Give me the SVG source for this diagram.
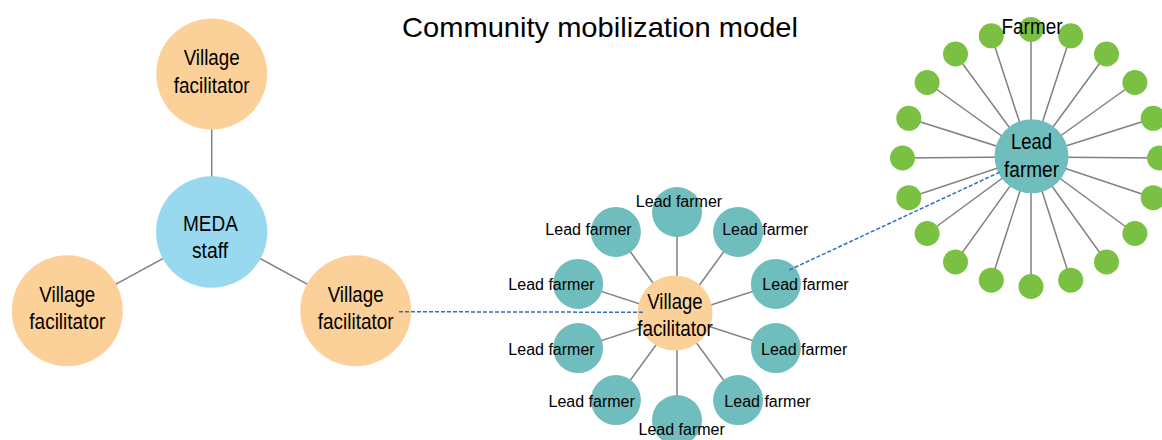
<svg xmlns="http://www.w3.org/2000/svg" width="1162" height="440" viewBox="0 0 1162 440">
<style>
text{font-family:"Liberation Sans",Arial,sans-serif;fill:#000;text-anchor:middle}
.big{font-size:22px}
.lf{font-size:16px}
.title{font-size:28.5px}
.peach{fill:#fcd199}
.teal{fill:#70bdbd}
.blue{fill:#99d9f0}
.green{fill:#7ac143}
.ln{stroke:#808080;stroke-width:1.5;fill:none}
.dash{stroke:#2e6fc4;stroke-width:1.5;stroke-dasharray:4 2;fill:none}
</style>
<rect width="1162" height="440" fill="#fff"/>
<text class="title" x="600" y="36.7" textLength="396" lengthAdjust="spacingAndGlyphs">Community mobilization model</text>

<g id="connectors">
<line class="ln" x1="211.7" y1="74" x2="211.7" y2="232"/>
<line class="ln" x1="211.7" y1="232" x2="67.3" y2="310.7"/>
<line class="ln" x1="211.7" y1="232" x2="355.7" y2="310.7"/>
<line class="ln" x1="677" y1="316" x2="677" y2="212"/>
<line class="ln" x1="677" y1="316" x2="738.1" y2="231.9"/>
<line class="ln" x1="677" y1="316" x2="775.9" y2="283.9"/>
<line class="ln" x1="677" y1="316" x2="775.9" y2="348.1"/>
<line class="ln" x1="677" y1="316" x2="738.1" y2="400.1"/>
<line class="ln" x1="677" y1="316" x2="677" y2="420"/>
<line class="ln" x1="677" y1="316" x2="615.9" y2="400.1"/>
<line class="ln" x1="677" y1="316" x2="578.1" y2="348.1"/>
<line class="ln" x1="677" y1="316" x2="578.1" y2="283.9"/>
<line class="ln" x1="677" y1="316" x2="615.9" y2="231.9"/>
<line class="ln" x1="1031" y1="157" x2="1031" y2="29.5"/>
<line class="ln" x1="1031" y1="157" x2="1070.7" y2="35.8"/>
<line class="ln" x1="1031" y1="157" x2="1106.5" y2="54"/>
<line class="ln" x1="1031" y1="157" x2="1134.9" y2="82.5"/>
<line class="ln" x1="1031" y1="157" x2="1153.2" y2="118.3"/>
<line class="ln" x1="1031" y1="157" x2="1159.5" y2="158"/>
<line class="ln" x1="1031" y1="157" x2="1153.2" y2="197.7"/>
<line class="ln" x1="1031" y1="157" x2="1134.9" y2="233.5"/>
<line class="ln" x1="1031" y1="157" x2="1106.5" y2="262"/>
<line class="ln" x1="1031" y1="157" x2="1070.7" y2="280.2"/>
<line class="ln" x1="1031" y1="157" x2="1031" y2="286.5"/>
<line class="ln" x1="1031" y1="157" x2="991.3" y2="280.2"/>
<line class="ln" x1="1031" y1="157" x2="955.5" y2="262"/>
<line class="ln" x1="1031" y1="157" x2="927.1" y2="233.5"/>
<line class="ln" x1="1031" y1="157" x2="908.8" y2="197.7"/>
<line class="ln" x1="1031" y1="157" x2="902.5" y2="158"/>
<line class="ln" x1="1031" y1="157" x2="908.8" y2="118.3"/>
<line class="ln" x1="1031" y1="157" x2="927.1" y2="82.5"/>
<line class="ln" x1="1031" y1="157" x2="955.5" y2="54"/>
<line class="ln" x1="1031" y1="157" x2="991.3" y2="35.8"/>
</g>

<g id="farmers">
<circle class="green" cx="1031" cy="29.5" r="12.5"/>
<circle class="green" cx="1070.7" cy="35.8" r="12.5"/>
<circle class="green" cx="1106.5" cy="54" r="12.5"/>
<circle class="green" cx="1134.9" cy="82.5" r="12.5"/>
<circle class="green" cx="1153.2" cy="118.3" r="12.5"/>
<circle class="green" cx="1159.5" cy="158" r="12.5"/>
<circle class="green" cx="1153.2" cy="197.7" r="12.5"/>
<circle class="green" cx="1134.9" cy="233.5" r="12.5"/>
<circle class="green" cx="1106.5" cy="262" r="12.5"/>
<circle class="green" cx="1070.7" cy="280.2" r="12.5"/>
<circle class="green" cx="1031" cy="286.5" r="12.5"/>
<circle class="green" cx="991.3" cy="280.2" r="12.5"/>
<circle class="green" cx="955.5" cy="262" r="12.5"/>
<circle class="green" cx="927.1" cy="233.5" r="12.5"/>
<circle class="green" cx="908.8" cy="197.7" r="12.5"/>
<circle class="green" cx="902.5" cy="158" r="12.5"/>
<circle class="green" cx="908.8" cy="118.3" r="12.5"/>
<circle class="green" cx="927.1" cy="82.5" r="12.5"/>
<circle class="green" cx="955.5" cy="54" r="12.5"/>
<circle class="green" cx="991.3" cy="35.8" r="12.5"/>
<text class="big" x="1032" y="34.3" textLength="61" lengthAdjust="spacingAndGlyphs">Farmer</text>
</g>

<g id="vf-top">
<circle class="peach" cx="211.7" cy="74" r="55.5"/>
<text class="big" x="211.7" y="65" textLength="56" lengthAdjust="spacingAndGlyphs">Village</text>
<text class="big" x="211.7" y="92.7" textLength="76" lengthAdjust="spacingAndGlyphs">facilitator</text>
</g>
<g id="meda-staff">
<circle class="blue" cx="211.7" cy="232" r="55.7"/>
<text class="big" x="210.5" y="231" textLength="55" lengthAdjust="spacingAndGlyphs">MEDA</text>
<text class="big" x="210" y="258.3" textLength="36" lengthAdjust="spacingAndGlyphs">staff</text>
</g>
<g id="vf-left">
<circle class="peach" cx="67.3" cy="310.7" r="55.5"/>
<text class="big" x="67.3" y="301.7" textLength="56" lengthAdjust="spacingAndGlyphs">Village</text>
<text class="big" x="67.3" y="329.3" textLength="76" lengthAdjust="spacingAndGlyphs">facilitator</text>
</g>
<g id="vf-right">
<circle class="peach" cx="355.7" cy="310.7" r="55.5"/>
<text class="big" x="355.7" y="301.7" textLength="56" lengthAdjust="spacingAndGlyphs">Village</text>
<text class="big" x="355.7" y="329.3" textLength="76" lengthAdjust="spacingAndGlyphs">facilitator</text>
</g>

<g id="lf-0"><circle class="teal" cx="677" cy="212" r="25"/><text class="lf" x="679" y="206.7">Lead farmer</text></g>
<g id="lf-1"><circle class="teal" cx="738.1" cy="231.9" r="25"/><text class="lf" x="765.3" y="235">Lead farmer</text></g>
<g id="lf-2"><circle class="teal" cx="775.9" cy="283.9" r="25"/><text class="lf" x="805.5" y="290">Lead farmer</text></g>
<g id="lf-3"><circle class="teal" cx="775.9" cy="348.1" r="25"/><text class="lf" x="804.2" y="355">Lead farmer</text></g>
<g id="lf-4"><circle class="teal" cx="738.1" cy="400.1" r="25"/><text class="lf" x="767.5" y="406.7">Lead farmer</text></g>
<g id="lf-5"><circle class="teal" cx="677" cy="420" r="25"/><text class="lf" x="681.7" y="435">Lead farmer</text></g>
<g id="lf-6"><circle class="teal" cx="615.9" cy="400.1" r="25"/><text class="lf" x="591.7" y="406.7">Lead farmer</text></g>
<g id="lf-7"><circle class="teal" cx="578.1" cy="348.1" r="25"/><text class="lf" x="551.5" y="355">Lead farmer</text></g>
<g id="lf-8"><circle class="teal" cx="578.1" cy="283.9" r="25"/><text class="lf" x="551.5" y="290">Lead farmer</text></g>
<g id="lf-9"><circle class="teal" cx="615.9" cy="231.9" r="25"/><text class="lf" x="588.5" y="235">Lead farmer</text></g>

<g id="vf-center">
<circle class="peach" cx="675" cy="313" r="37.5"/>
<text class="big" x="675" y="308.5" textLength="55.3" lengthAdjust="spacingAndGlyphs">Village</text>
<text class="big" x="675" y="336" textLength="75.7" lengthAdjust="spacingAndGlyphs">facilitator</text>
</g>

<g id="lead-farmer-main">
<circle class="teal" cx="1031.5" cy="156.3" r="37"/>
<text class="big" x="1031.5" y="149" textLength="41" lengthAdjust="spacingAndGlyphs">Lead</text>
<text class="big" x="1031.5" y="176.7" textLength="55" lengthAdjust="spacingAndGlyphs">farmer</text>
</g>

<g id="dashed-connectors">
<line class="dash" x1="399" y1="311.7" x2="645" y2="312.3"/>
<line class="dash" x1="789.3" y1="270" x2="1000.7" y2="171.7"/>
</g>
</svg>
